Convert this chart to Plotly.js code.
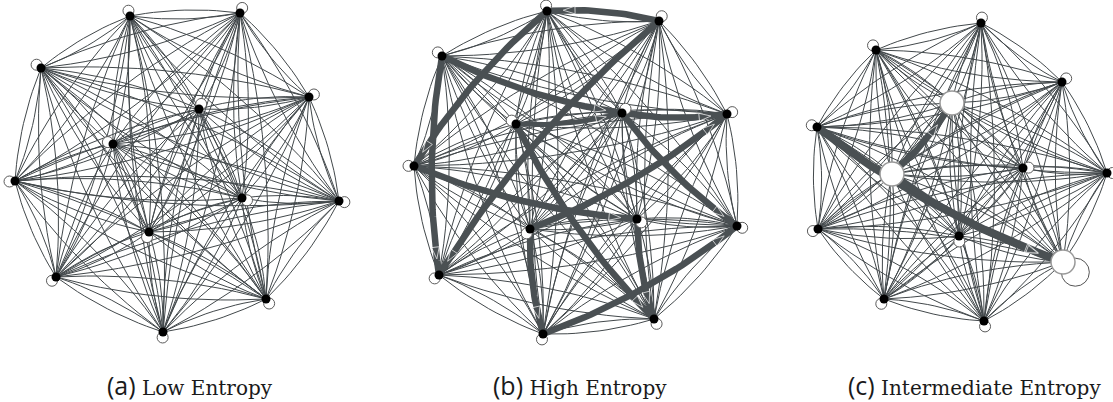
<!DOCTYPE html>
<html><head><meta charset="utf-8">
<script src="https://cdn.plot.ly/plotly-3.0.1.min.js"></script>
<style>html,body{margin:0;padding:0;background:#fff}</style>
</head><body><div id="chart" style="width:1113px;height:402px"></div>
<script>
// ---- node positions (pixel space) ----
const nodesA_x = [130,240,41,309,199,113,15,339,242,149,56,266,163];
const nodesA_y = [16,13,68,97,109,144,181,201,198,232,277,299,332];
const nodesB_x = [547,659,442,727,622,516,414,737,637,530,439,654,543];
const nodesB_y = [11,21,56,114,113,124,166,226,219,229,275,319,334];
const nodesC_x = [981,876,1062,952,817,892,1023,1107,818,959,1063,884,984];
const nodesC_y = [23,50,82,103,127,174,168,173,229,236,262,299,321];

// heavy (thick) directed edges: from, to, width
const heavyB_from = [1,1,0,2,2,4,5,6,5,9,9,12,4,8];
const heavyB_to   = [0,10,6,10,4,3,4,8,11,3,12,7,7,11];
const heavyB_w    = [6.5,6.5,6.5,6.5,6.5,6.5,5,6.5,6.5,6.5,6.5,6.5,6.5,6.5];
const heavyC_from = [4,5,5];
const heavyC_to   = [10,10,3];
const heavyC_w    = [8,6.5,6.5];

// panel (c): nodes drawn as large white circles, and the large self loop
const whiteC = [3,5,10];
const bigLoopC = [10];

const captions = ['(a)','(b)','(c)'];
const captionText = ['Low Entropy','High Entropy','Intermediate Entropy'];

const EDGE = '#42484b';
const K = 0.08;

function bez(x1,y1,x2,y2,n){
  const mx=(x1+x2)/2,my=(y1+y2)/2,dx=x2-x1,dy=y2-y1;
  const cx=mx-dy*K, cy=my+dx*K;
  const xs=[],ys=[];
  for(let i=0;i<=n;i++){const t=i/n,a=(1-t)*(1-t),b=2*t*(1-t),c=t*t;
    xs.push(a*x1+b*cx+c*x2); ys.push(a*y1+b*cy+c*y2);}
  return [xs,ys,cx,cy];
}
function ptAt(x1,y1,cx,cy,x2,y2,t){const a=(1-t)*(1-t),b=2*t*(1-t),c=t*t;return [a*x1+b*cx+c*x2,a*y1+b*cy+c*y2];}

const traces=[];
function panel(nx,ny,hf,ht,hw,white,bigLoop){
  const n=nx.length;
  const ex=[],ey=[];
  for(let i=0;i<n;i++)for(let j=0;j<n;j++){ if(i===j)continue;
    const [xs,ys]=bez(nx[i],ny[i],nx[j],ny[j],14); ex.push(...xs,null); ey.push(...ys,null);}
  traces.push({x:ex,y:ey,mode:'lines',line:{color:EDGE,width:1},hoverinfo:'skip'});
  const ax=[],ay=[],sz=[];
  for(let k=0;k<hf.length;k++){const i=hf[k],j=ht[k];
    const [xs,ys,cx,cy]=bez(nx[i],ny[i],nx[j],ny[j],30);
    traces.push({x:xs,y:ys,mode:'lines',line:{color:'#4a5053',width:hw[k]},hoverinfo:'skip'});
    const L=Math.hypot(nx[j]-nx[i],ny[j]-ny[i]); const ta=1-(white.includes(j)?26:16)/L;
    const p0=ptAt(nx[i],ny[i],cx,cy,nx[j],ny[j],ta-0.02), p1=ptAt(nx[i],ny[i],cx,cy,nx[j],ny[j],ta);
    ax.push(p0[0],p1[0],null); ay.push(p0[1],p1[1],null); sz.push(0,hw[k]+6,0);
  }
  if(ax.length) traces.push({x:ax,y:ay,mode:'markers',marker:{symbol:'arrow',angleref:'previous',size:sz,color:'#4a5053'},hoverinfo:'skip'});
  let cxp=0,cyp=0; for(let i=0;i<n;i++){cxp+=nx[i];cyp+=ny[i];} cxp/=n;cyp/=n;
  const lx=[],ly=[],bx=[],by=[];
  for(let i=0;i<n;i++){ if(white.includes(i)&&!bigLoop.includes(i))continue;
    const dx=nx[i]-cxp,dy=ny[i]-cyp,d=Math.hypot(dx,dy)||1;
    if(bigLoop.includes(i)){bx.push(nx[i]+dx/d*16);by.push(ny[i]+dy/d*16);}
    else {lx.push(nx[i]+dx/d*5.5);ly.push(ny[i]+dy/d*5.5);}
  }
  traces.push({x:lx,y:ly,mode:'markers',marker:{size:11,color:'#fff',line:{color:'#5a5a5a',width:1}},hoverinfo:'skip'});
  if(bx.length) traces.push({x:bx,y:by,mode:'markers',marker:{size:28,color:'rgba(255,255,255,0)',line:{color:'#555',width:1}},hoverinfo:'skip'});
  const kx=[],ky=[],wx=[],wy=[];
  for(let i=0;i<n;i++){ if(white.includes(i)){wx.push(nx[i]);wy.push(ny[i]);} else {kx.push(nx[i]);ky.push(ny[i]);} }
  traces.push({x:kx,y:ky,mode:'markers',marker:{size:9,color:'#000'},hoverinfo:'skip'});
  if(wx.length) traces.push({x:wx,y:wy,mode:'markers',marker:{size:24,color:'#fff',line:{color:'#999',width:1.5}},hoverinfo:'skip'});
}
panel(nodesA_x,nodesA_y,[],[],[],[],[]);
panel(nodesB_x,nodesB_y,heavyB_from,heavyB_to,heavyB_w,[],[]);
panel(nodesC_x,nodesC_y,heavyC_from,heavyC_to,heavyC_w,whiteC,bigLoopC);

const capX=[190,580,974];
const annotations=captions.map((c,i)=>({x:capX[i],y:385,xref:'x',yref:'y',showarrow:false,xanchor:'center',yanchor:'middle',
  text:'<span style="font-family:\'Open Sans\';font-size:25px">'+c+'</span> '+captionText[i],
  font:{family:'DejaVu Serif',size:20,color:'#1a1a1a'}}));

Plotly.newPlot('chart',traces,{
  width:1113,height:402,margin:{l:0,r:0,t:0,b:0},showlegend:false,
  paper_bgcolor:'#fff',plot_bgcolor:'#fff',
  xaxis:{range:[0,1113],visible:false,fixedrange:true},
  yaxis:{range:[402,0],visible:false,fixedrange:true},
  annotations:annotations
},{staticPlot:true,displayModeBar:false});
</script></body></html>
